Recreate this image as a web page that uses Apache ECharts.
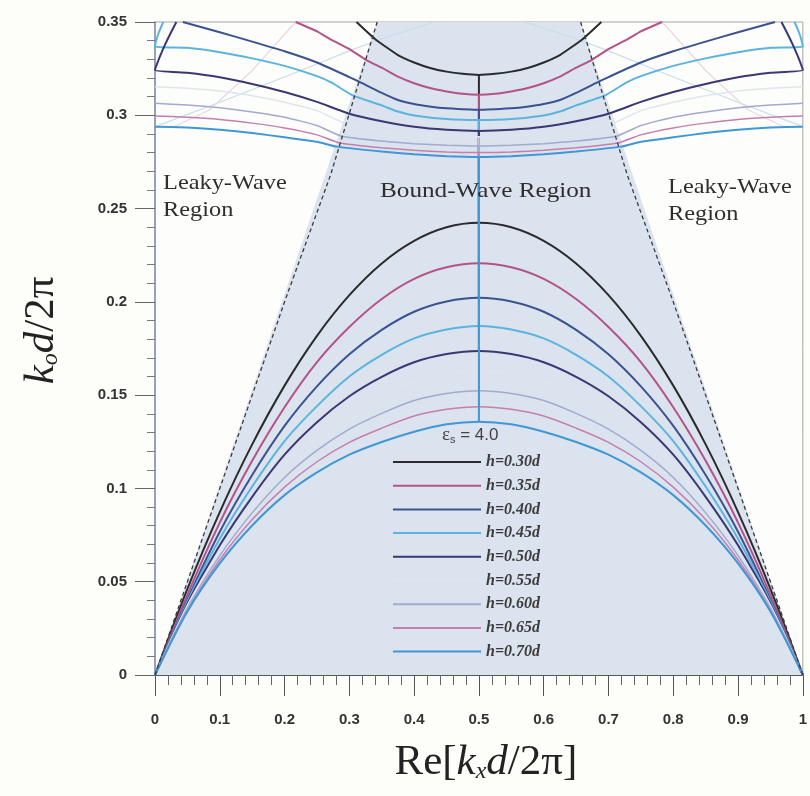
<!DOCTYPE html>
<html>
<head>
<meta charset="utf-8">
<script src="https://cdn.jsdelivr.net/npm/echarts@6/dist/echarts.min.js"></script>
<style>
  html, body { margin: 0; padding: 0; background: #fdfdf9; }
  #chart { width: 810px; height: 796px; }
</style>
</head>
<body>
<div id="chart"></div>
<script>
// kx grid for the lower (bound) branch, left half; right half is the mirror image
const KX = [0, 0.05, 0.1, 0.15, 0.2, 0.25, 0.3, 0.35, 0.4, 0.45, 0.5];

const low30 = [0, 0.0461, 0.0873, 0.1236, 0.1551, 0.1818, 0.2036, 0.2206, 0.2327, 0.2400, 0.2424];
const low35 = [0, 0.0430, 0.0817, 0.1148, 0.1435, 0.1677, 0.1865, 0.2015, 0.2123, 0.2185, 0.2207];
const low40 = [0, 0.0404, 0.0768, 0.1072, 0.1335, 0.1547, 0.1719, 0.1850, 0.1947, 0.2002, 0.2022];
const low45 = [0, 0.0393, 0.0730, 0.1010, 0.1254, 0.1441, 0.1600, 0.1716, 0.1804, 0.1852, 0.1871];
const low50 = [0, 0.0382, 0.0695, 0.0955, 0.1181, 0.1355, 0.1494, 0.1598, 0.1676, 0.1720, 0.1737];
const low55 = [0, 0.0375, 0.0668, 0.0913, 0.1125, 0.1280, 0.1405, 0.1500, 0.1573, 0.1614, 0.1630];
const low60 = [0, 0.0358, 0.0640, 0.0869, 0.1059, 0.1204, 0.1318, 0.1402, 0.1471, 0.1509, 0.1524];
const low65 = [0, 0.0345, 0.0618, 0.0834, 0.1007, 0.1143, 0.1247, 0.1323, 0.1388, 0.1424, 0.1438];
const low70 = [0, 0.0340, 0.0598, 0.0801, 0.0964, 0.1086, 0.1181, 0.1249, 0.1304, 0.1344, 0.1358];

// upper branch, left half [kx, k0] (from the top / left edge to kx = 0.5)
const up30 = [[0.311, 0.35], [0.34, 0.3408], [0.375, 0.3323], [0.4, 0.3283], [0.426, 0.3252], [0.45, 0.3234], [0.475, 0.3222], [0.5, 0.3216]];
const up35 = [[0.217, 0.35], [0.25, 0.345], [0.2726, 0.3404], [0.3, 0.3355], [0.326, 0.3296], [0.35, 0.3255], [0.375, 0.3207], [0.4, 0.3172], [0.426, 0.3145], [0.45, 0.3128], [0.475, 0.3115], [0.5, 0.311]];
const up40 = [[0.043, 0.35], [0.1, 0.3445], [0.15, 0.3395], [0.2, 0.3343], [0.25, 0.3283], [0.3, 0.3205], [0.315, 0.318], [0.35, 0.312], [0.375, 0.3082], [0.4, 0.306], [0.426, 0.3046], [0.45, 0.3038], [0.5, 0.303]];
const up45 = [[0.0128, 0.35], [0.006, 0.3445], [0.0015, 0.3395], [0, 0.3368], [0.05, 0.3362], [0.1, 0.3338], [0.15, 0.3305], [0.2, 0.3265], [0.25, 0.321], [0.2726, 0.3175], [0.306, 0.3105], [0.35, 0.3053], [0.375, 0.302], [0.4, 0.2999], [0.45, 0.298], [0.5, 0.2975]];
const up50 = [[0.033, 0.35], [0.024, 0.344], [0.015, 0.3375], [0.007, 0.331], [0, 0.3243], [0.05, 0.3228], [0.1, 0.3204], [0.15, 0.3168], [0.2, 0.3125], [0.25, 0.3072], [0.2986, 0.301], [0.35, 0.2968], [0.4, 0.2938], [0.45, 0.2922], [0.5, 0.2916]];
const up55 = [[0, 0.3153], [0.05, 0.3145], [0.1, 0.313], [0.15, 0.3105], [0.2, 0.307], [0.25, 0.3025], [0.294, 0.2955], [0.35, 0.2915], [0.4, 0.2898], [0.45, 0.2888], [0.5, 0.2885]];
const up60 = [[0, 0.3064], [0.05, 0.3055], [0.1, 0.304], [0.15, 0.3018], [0.2, 0.299], [0.25, 0.2945], [0.288, 0.2888], [0.35, 0.2862], [0.4, 0.2848], [0.45, 0.2839], [0.5, 0.2835]];
const up65 = [[0, 0.2996], [0.05, 0.299], [0.1, 0.2978], [0.15, 0.2958], [0.2, 0.2932], [0.25, 0.2895], [0.285, 0.2852], [0.35, 0.2826], [0.4, 0.2812], [0.45, 0.2803], [0.5, 0.28]];
const up70 = [[0, 0.2939], [0.05, 0.2934], [0.1, 0.2923], [0.15, 0.2905], [0.2, 0.2882], [0.25, 0.2858], [0.28, 0.2832], [0.35, 0.2806], [0.4, 0.2791], [0.45, 0.2781], [0.5, 0.2777]];

// faint higher-order traces, left half
const faintCyan = [[0, 0.2939], [0.1, 0.307], [0.2, 0.3205], [0.25, 0.3275], [0.3, 0.3345], [0.35, 0.341], [0.43, 0.35]];
const faintPink = [[0.03, 0.294], [0.084, 0.3028], [0.15, 0.324], [0.217, 0.35]];

// light line k0 = kx (left); the right one is its mirror
const lightLine = [[0, 0], [0.1, 0.1], [0.2, 0.2], [0.271, 0.268], [0.343, 0.35]];

const NAMES = ['h=0.30d', 'h=0.35d', 'h=0.40d', 'h=0.45d', 'h=0.50d', 'h=0.55d', 'h=0.60d', 'h=0.65d', 'h=0.70d'];
const LOWS = [low30, low35, low40, low45, low50, low55, low60, low65, low70];
const UPS = [up30, up35, up40, up45, up50, up55, up60, up65, up70];
const COLORS = ['#2b2b2e', '#b4528a', '#3b5291', '#5cb3de', '#3a3775', '#dfe5ee', '#a3a9cf', '#c47fae', '#3f97d6'];
const WIDTHS = [2, 2, 2, 2, 2, 1.5, 1.5, 1.5, 2];

// mirror about kx = 0.5
const mirror = pts => pts.slice().reverse().map(p => [+(1 - p[0]).toFixed(4), p[1]]);
const fullCurve = left => left.concat(mirror(left).slice(1));

const series = [];

// shaded bound-wave region
series.push({
  type: 'line', silent: true, symbol: 'none', z: 1,
  data: [[0, 0], [0.343, 0.35], [0.657, 0.35], [1, 0]],
  lineStyle: { width: 0 },
  areaStyle: { color: '#dbe3ee', opacity: 1 }
});

// faint traces
[[faintCyan, '#c9dde9'], [faintPink, '#ecd6e2']].forEach(([pts, c]) => {
  [pts, mirror(pts)].forEach(d => series.push({
    type: 'line', silent: true, symbol: 'none', z: 2, data: d,
    lineStyle: { color: c, width: 1.2 }
  }));
});

NAMES.forEach((name, i) => {
  const leftLow = KX.map((x, j) => [x, LOWS[i][j]]);
  const style = { color: COLORS[i], width: WIDTHS[i] };
  const common = { name, type: 'line', symbol: 'none', z: 3, lineStyle: style, itemStyle: { color: COLORS[i] } };
  series.push(Object.assign({ smooth: 0.3, data: fullCurve(leftLow) }, common));
  series.push(Object.assign({ smooth: 0.15, data: fullCurve(UPS[i]) }, common));
  // stop band at kx = 0.5
  series.push(Object.assign({ data: [[0.5, LOWS[i][LOWS[i].length - 1]], UPS[i][UPS[i].length - 1]] }, common));
});

// dashed light lines
[lightLine, mirror(lightLine)].forEach(d => series.push({
  type: 'line', silent: true, symbol: 'none', z: 4, data: d,
  lineStyle: { color: '#3a3a3a', width: 1.3, type: [4, 3] }
}));

const nameRich = {
  n: { fontFamily: 'Liberation Serif', fontSize: 43, color: '#222' },
  i: { fontFamily: 'Liberation Serif', fontSize: 43, fontStyle: 'italic', color: '#222' },
  s: { fontFamily: 'Liberation Serif', fontSize: 24, fontStyle: 'italic', color: '#222', verticalAlign: 'bottom', lineHeight: 24, padding: [20, 0, 0, 0] }
};

const chart = echarts.init(document.getElementById('chart'));
chart.setOption({
  backgroundColor: '#fdfdf9',
  animation: false,
  grid: { left: 155, right: 2, top: 22, bottom: 121, show: true, borderColor: '#a4a4a4', borderWidth: 1, backgroundColor: '#fdfdfb' },
  legend: {
    data: NAMES, orient: 'vertical', left: 392, top: 454, padding: 0,
    itemWidth: 88, itemHeight: 14, itemGap: 7.7,
    itemStyle: { opacity: 0 },
    textStyle: { fontFamily: 'Liberation Serif', fontStyle: 'italic', fontWeight: 'bold', fontSize: 16, color: '#3c3c3c' }
  },
  xAxis: {
    type: 'value', min: 0, max: 1, interval: 0.1,
    name: '{n|Re[}{i|k}{s|x}{i|d}{n|/2π]}', nameLocation: 'middle', nameGap: 66,
    nameTextStyle: { fontFamily: 'Liberation Serif', color: '#222', rich: nameRich, padding: [0, 0, 0, 14] },
    axisLine: { lineStyle: { color: '#555', width: 1.2 } },
    axisTick: { length: 21, lineStyle: { color: '#555' } },
    minorTick: { show: true, splitNumber: 5, length: 10, lineStyle: { color: '#666' } },
    splitLine: { show: false },
    axisLabel: { margin: 37, fontFamily: 'Liberation Sans', fontWeight: 'bold', fontSize: 15, color: '#333' }
  },
  yAxis: {
    type: 'value', min: 0, max: 0.35, interval: 0.05,
    name: '{i|k}{s|o}{i|d}{n|/2π}', nameLocation: 'middle', nameGap: 92,
    nameTextStyle: { fontFamily: 'Liberation Serif', color: '#222', rich: nameRich, padding: [0, 0, 0, 36] },
    axisLine: { lineStyle: { color: '#8391b3', width: 1.5 } },
    axisTick: { length: 20, lineStyle: { color: '#666' } },
    minorTick: { show: true, splitNumber: 5, length: 8, lineStyle: { color: '#777' } },
    splitLine: { show: false },
    axisLabel: { margin: 28, fontFamily: 'Liberation Sans', fontWeight: 'bold', fontSize: 15, color: '#333' }
  },
  graphic: [
    { type: 'text', left: 163, top: 170, z: 10, scaleX: 1.16, style: { text: 'Leaky-Wave\nRegion', font: '21px "Liberation Serif"', fill: '#2e2e2e', lineHeight: 27 } },
    { type: 'text', left: 668, top: 174, z: 10, scaleX: 1.16, style: { text: 'Leaky-Wave\nRegion', font: '21px "Liberation Serif"', fill: '#2e2e2e', lineHeight: 27 } },
    { type: 'text', left: 380, top: 181, z: 10, scaleX: 1.2, style: { text: 'Bound-Wave Region', font: '21px "Liberation Serif"', fill: '#2e2e2e' } },
    {
      type: 'text', left: 442, top: 426, z: 10,
      style: {
        text: '{e|ε}{s|s}{n| = 4.0}',
        rich: {
          e: { font: '19px "Liberation Serif"', fill: '#444' },
          s: { font: '11px "Liberation Sans"', fill: '#444', verticalAlign: 'bottom', padding: [8, 0, 0, 0] },
          n: { font: '17px "Liberation Sans"', fill: '#444' }
        }
      }
    }
  ],
  series
});
</script>
</body>
</html>
